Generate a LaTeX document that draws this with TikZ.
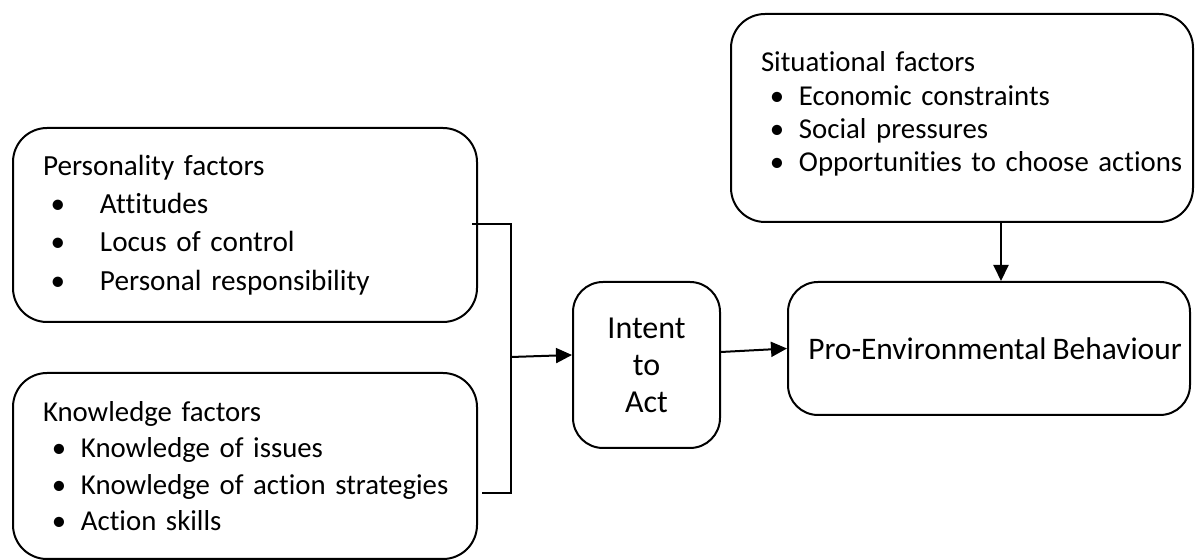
\documentclass[tikz,border=0pt]{standalone}
\usepackage{fontspec}
\setmainfont[Ligatures=NoCommon, WordSpace=0.85]{Carlito}
\usetikzlibrary{arrows.meta}

\tikzset{
  factorbox/.style={draw, line width=1pt, rounded corners=17pt, align=left,
    inner xsep=15pt, inner ysep=0pt},
  stagebox/.style={draw, line width=1pt, rounded corners=15pt, align=center},
  flow/.style={line width=1pt, -{Triangle[length=8pt,width=7.5pt]}}
}
\newcommand{\wordbullet}[1]{\mbox{\makebox[16pt][c]{\textbullet}\hspace{3pt}#1}}
\newcommand{\tabbullet}[1]{\mbox{\makebox[15pt][c]{\textbullet}\hspace{13.5pt}#1}}

\begin{document}
\begin{tikzpicture}[x=0.5pt, y=-0.5pt]
    \useasboundingbox (0,0) rectangle (1195,560);
    % factor boxes
    \node[factorbox, text width=202pt, minimum height=97pt, font=\fontsize{14.6}{19.2}\selectfont]
      (pers) at (245,225) {Personality factors\\ \tabbullet{Attitudes}\\ \tabbullet{Locus of control}\\ \tabbullet{Personal responsibility}};
    \node[factorbox, text width=202pt, minimum height=93pt, font=\fontsize{14.4}{18.2}\selectfont]
      (know) at (245,466) {Knowledge factors\\ \wordbullet{Knowledge of issues}\\ \wordbullet{Knowledge of action strategies}\\ \wordbullet{Action skills}};
    \node[factorbox, text width=201pt, minimum height=104pt, font=\fontsize{14.4}{16.6}\selectfont]
      (sit) at (962,118) {Situational factors\\ \wordbullet{Economic constraints}\\ \wordbullet{Social pressures}\\ \wordbullet{Opportunities to choose actions}\vspace{4pt}};
    % intent and behaviour
    \node[stagebox, minimum width=73.5pt, minimum height=83pt, font=\fontsize{16}{18.5}\selectfont]
      (intent) at (646.5,365) {Intent\\to\\Act};
    \node[stagebox, minimum width=201pt, minimum height=66.5pt, font=\fontsize{15.7}{18.5}\selectfont]
      (peb) at (989,348.5) {\hspace{6pt}Pro-Environmental Behaviour};
    % bracket joining the two factor boxes
    \coordinate (ptap) at (472,224);
    \coordinate (ktap) at (482,493);
    \coordinate (join) at (511,357);
    \draw[line width=1pt] (ptap) -| (join) |- (ktap);
    \draw[flow] (join) -- ([yshift=5pt]intent.west);
    \draw[flow] ([yshift=6.5pt]intent.east) -- (peb.west);
    \draw[flow] ([xshift=6pt]peb.north |- sit.south) -- ([xshift=6pt]peb.north);
\end{tikzpicture}
\end{document}
